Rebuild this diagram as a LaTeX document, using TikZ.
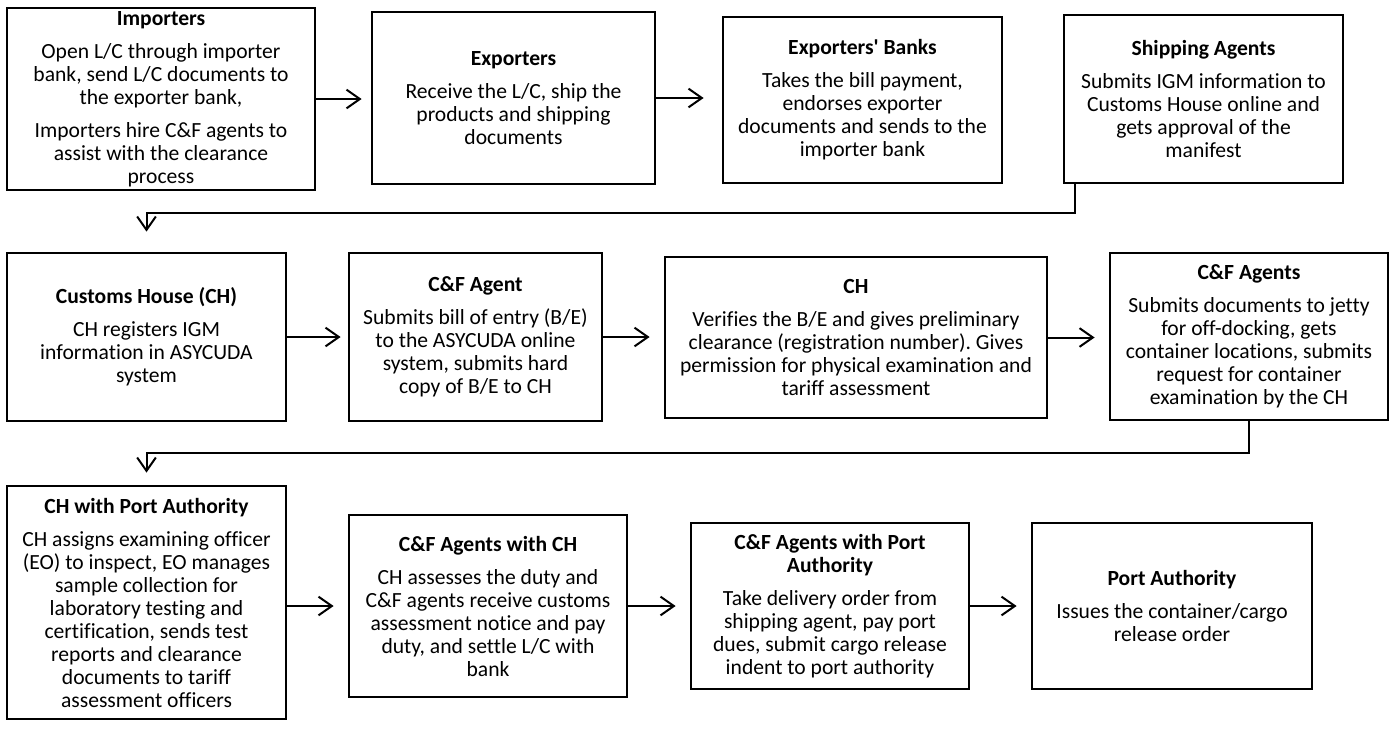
\documentclass[tikz,border=0pt]{standalone}
\usepackage{fontspec}
\setmainfont{Carlito}[Ligatures={TeX,NoCommon}]
\frenchspacing
\usetikzlibrary{arrows.meta,calc}
\begin{document}
\begin{tikzpicture}[x=0.75pt,y=-0.75pt,
  box/.style={draw,line width=2.1pt,inner sep=0pt,align=center,
    font=\fontsize{16.2pt}{17.25pt}\selectfont},
  conn/.style={line width=1.5pt,-{Straight Barb[length=10pt,width=14pt]}}]
\useasboundingbox (0,0) rectangle (1391,728);

% Row 1
\node[box,minimum width=231pt,minimum height=136.5pt] (imp) at (161,99)
  {\textbf{Importers}\\[7.5pt]
   Open L/C through importer\\ bank, send L/C documents to\\ the exporter bank,\\[7.5pt]
   Importers hire C\&F agents to\\ assist with the clearance\\ process};
\node[box,minimum width=212.25pt,minimum height=129pt] (exp) at (513.5,98)
  {\textbf{Exporters}\\[7.5pt]
   Receive the L/C, ship the\\ products and shipping\\ documents};
\node[box,minimum width=209.25pt,minimum height=124.5pt] (eb) at (862.5,100)
  {\textbf{Exporters\textquotesingle\ Banks}\\[7.5pt]
   Takes the bill payment,\\ endorses exporter\\ documents and sends to the\\ importer bank};
\node[box,minimum width=209.25pt,minimum height=126pt] (sa) at (1203.5,99)
  {\textbf{Shipping Agents}\\[7.5pt]
   Submits IGM information to\\ Customs House online and\\ gets approval of the\\ manifest};

% Row 2
\node[box,minimum width=209.25pt,minimum height=126pt] (ch1) at (146.5,337)
  {\textbf{Customs House (CH)}\\[7.5pt]
   CH registers IGM\\ information in ASYCUDA\\ system};
\node[box,minimum width=189.75pt,minimum height=126pt] (cfa) at (475.5,337)
  {\textbf{C\&F Agent}\\[7.5pt]
   Submits bill of entry (B/E)\\ to the ASYCUDA online\\ system, submits hard\\ copy of B/E to CH};
\node[box,minimum width=286.5pt,minimum height=120.75pt] (ch) at (856,337.5)
  {\textbf{CH}\\[7.5pt]
   Verifies the B/E and gives preliminary\\ clearance (registration number). Gives\\ permission for physical examination and\\ tariff assessment};
\node[box,minimum width=208.5pt,minimum height=125.25pt] (cfas) at (1249,336.5)
  {\textbf{C\&F Agents}\\[7.5pt]
   Submits documents to jetty\\ for off-docking, gets\\ container locations, submits\\ request for container\\ examination by the CH};

% Row 3
\node[box,minimum width=209.25pt,minimum height=174.75pt] (chpa) at (146.5,602.5)
  {\textbf{CH with Port Authority}\\[7.5pt]
   CH assigns examining officer\\ (EO) to inspect, EO manages\\ sample collection for\\ laboratory testing and\\ certification, sends test\\ reports and clearance\\ documents to tariff\\ assessment officers};
\node[box,minimum width=208.5pt,minimum height=136.5pt] (cfch) at (488,606)
  {\textbf{C\&F Agents with CH}\\[7.5pt]
   CH assesses the duty and\\ C\&F agents receive customs\\ assessment notice and pay\\ duty, and settle L/C with\\ bank};
\node[box,minimum width=208.5pt,minimum height=124.5pt] (cfpa) at (830,606)
  {\textbf{C\&F Agents with Port}\\ \textbf{Authority}\\[7.5pt]
   Take delivery order from\\ shipping agent, pay port\\ dues, submit cargo release\\ indent to port authority};
\node[box,minimum width=210pt,minimum height=124.5pt] (pa) at (1172,606)
  {\textbf{Port Authority}\\[7.5pt]
   Issues the container/cargo\\ release order};

% Connectors
\draw[conn,shorten >=6.75pt] (imp.east) -- (exp.west |- imp.east);
\draw[conn,shorten >=13.5pt] (exp.east) -- (eb.west |- exp.east);
\draw[conn,shorten >=15pt] ([xshift=9pt]sa.south west) -- ++(0,29) -| (ch1.north);
\draw[conn,shorten >=5.25pt] (ch1.east) -- (cfa.west |- ch1.east);
\draw[conn,shorten >=10.5pt] (cfa.east) -- (ch.west |- cfa.east);
\draw[conn,shorten >=10.5pt] (ch.east) -- (cfas.west |- ch.east);
\draw[conn,shorten >=9pt] (cfas.south) -- ++(0,32) -| (chpa.north);
\draw[conn,shorten >=10.5pt] (chpa.east |- cfch.west) -- (cfch.west);
\draw[conn,shorten >=10.5pt] (cfch.east) -- (cfpa.west);
\draw[conn,shorten >=10.5pt] (cfpa.east) -- (pa.west);
\end{tikzpicture}
\end{document}
